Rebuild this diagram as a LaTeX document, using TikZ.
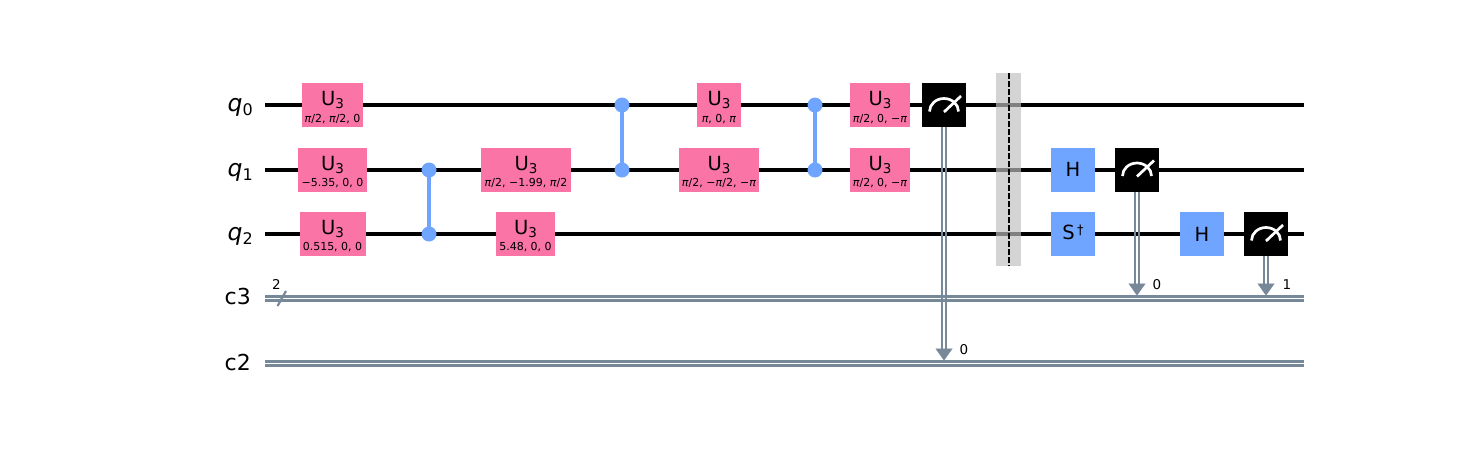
\documentclass[tikz,border=0pt]{standalone}
\usepackage{fontspec}
\setmainfont{DejaVu Sans}
\usetikzlibrary{arrows.meta}
\pgfdeclarelayer{edgelayer}
\pgfdeclarelayer{nodelayer}
\pgfsetlayers{edgelayer,nodelayer,main}
\definecolor{gatepink}{HTML}{FA74A6}
\definecolor{gateblue}{HTML}{6FA4FF}
\definecolor{wiregrey}{HTML}{778899}
\newcommand{\bigfont}{\fontsize{22}{23}\selectfont}
\newcommand{\gatefont}{\fontsize{19.5}{20}\selectfont}
\newcommand{\parfont}{\fontsize{11}{12}\selectfont}
\newcommand{\bitfont}{\fontsize{13.5}{14}\selectfont}
\newcommand{\ppi}{\textit{π}}
\newcommand{\mn}{−}
\newcommand{\uthree}{U\raisebox{-3pt}{\fontsize{13.5}{14}\selectfont 3}}
\newcommand{\qub}[1]{{\fontsize{23.5}{24}\selectfont\textit{q}}\raisebox{-4pt}{\fontsize{16}{16}\selectfont #1}}
\tikzstyle{none} = [inner sep=0pt]
\tikzstyle{wire} = [line width=3.1pt, black]
\tikzstyle{cwire} = [line width=2.2pt, wiregrey]
\tikzstyle{cdrop} = [line width=0.1pt, wiregrey, -{Triangle[width=17pt,length=12pt]}]
\tikzstyle{upink} = [fill=gatepink, inner sep=0pt, minimum height=44pt]
\tikzstyle{blue gate} = [fill=gateblue, inner sep=0pt, minimum width=44pt, minimum height=44pt]
\tikzstyle{meter} = [fill=black, inner sep=0pt, minimum width=44pt, minimum height=44pt]
\tikzstyle{needle} = [line width=2.7pt, white]
\tikzstyle{ctrl} = [circle, fill=gateblue, inner sep=0pt, minimum size=15pt]
\tikzstyle{link} = [line width=3.2pt, gateblue]
\tikzstyle{fence} = [fill=black!25, fill opacity=0.67, inner sep=0pt, minimum width=25pt, minimum height=193pt]
\tikzstyle{wirename} = [anchor=base east, inner sep=0pt, font=\bigfont]
\tikzstyle{uname} = [anchor=base, inner sep=0pt, font=\gatefont]
\tikzstyle{params} = [anchor=base, inner sep=0pt, font=\parfont]
\tikzstyle{bit} = [anchor=base, inner sep=0pt, font=\bitfont]

\begin{document}
\begin{tikzpicture}[x=1pt, y=-1pt]
	\useasboundingbox (0, 0) rectangle (1458, 451);
	\begin{pgfonlayer}{nodelayer}
		% wire ends
		\node [style=none] (0) at (265, 105) {};
		\node [style=none] (1) at (1304, 105) {};
		\node [style=none] (2) at (265, 170) {};
		\node [style=none] (3) at (1304, 170) {};
		\node [style=none] (4) at (265, 234) {};
		\node [style=none] (5) at (1304, 234) {};
		\node [style=none] (6) at (265, 298.5) {};
		\node [style=none] (7) at (1304, 298.5) {};
		\node [style=none] (8) at (265, 363.5) {};
		\node [style=none] (9) at (1304, 363.5) {};
		\node [style=wirename] (10) at (253, 111) {\qub{0}};
		\node [style=wirename] (11) at (253, 176) {\qub{1}};
		\node [style=wirename] (12) at (253, 240) {\qub{2}};
		\node [style=wirename] (13) at (251, 304.5) {c3};
		\node [style=wirename] (14) at (251, 370) {c2};
		% first column
		\node [style=upink, minimum width=61pt] (15) at (332.5, 105) {};
		\node [style=uname] (16) at (332.5, 105) {\uthree};
		\node [style=params] (17) at (332.5, 122) {\ppi/2, \ppi/2, 0};
		\node [style=upink, minimum width=69pt] (18) at (332.5, 169.5) {};
		\node [style=uname] (19) at (332.5, 170) {\uthree};
		\node [style=params] (20) at (332.5, 186.5) {\mn5.35, 0, 0};
		\node [style=upink, minimum width=66pt] (21) at (333, 234) {};
		\node [style=uname] (22) at (332.5, 234) {\uthree};
		\node [style=params] (23) at (332.5, 250.5) {0.515, 0, 0};
		\node [style=ctrl] (24) at (429, 170) {};
		\node [style=ctrl] (25) at (429, 234) {};
		% second column
		\node [style=upink, minimum width=90pt] (26) at (526, 169.5) {};
		\node [style=uname] (27) at (526, 170) {\uthree};
		\node [style=params] (28) at (526, 186.5) {\ppi/2, \mn1.99, \ppi/2};
		\node [style=upink, minimum width=59pt] (29) at (525.5, 234) {};
		\node [style=uname] (30) at (525.5, 234) {\uthree};
		\node [style=params] (31) at (525.5, 250.5) {5.48, 0, 0};
		\node [style=ctrl] (32) at (622, 105) {};
		\node [style=ctrl] (33) at (622, 170) {};
		% third column
		\node [style=upink, minimum width=44pt] (34) at (719, 105) {};
		\node [style=uname] (35) at (719, 105) {\uthree};
		\node [style=params] (36) at (719, 122) {\ppi, 0, \ppi};
		\node [style=upink, minimum width=80pt] (37) at (719, 169.5) {};
		\node [style=uname] (38) at (719, 170) {\uthree};
		\node [style=params] (39) at (719, 186.5) {\ppi/2, \mn\ppi/2, \mn\ppi};
		\node [style=ctrl] (40) at (815, 105) {};
		\node [style=ctrl] (41) at (815, 170) {};
		% fourth column
		\node [style=upink, minimum width=60pt] (42) at (880, 105) {};
		\node [style=uname] (43) at (880, 105) {\uthree};
		\node [style=params] (44) at (880, 122) {\ppi/2, 0, \mn\ppi};
		\node [style=upink, minimum width=60pt] (45) at (880, 169.5) {};
		\node [style=uname] (46) at (880, 170) {\uthree};
		\node [style=params] (47) at (880, 186.5) {\ppi/2, 0, \mn\ppi};
		% measure and barrier
		\node [style=meter] (48) at (944, 105) {};
		\node [style=none] (49) at (944, 348.5) {};
		\node [style=none] (50) at (944, 360.5) {};
		\node [style=bit] (51) at (964, 354) {0};
		\node [style=fence] (52) at (1008.5, 169.5) {};
		\node [style=none] (53) at (1009, 73) {};
		\node [style=none] (54) at (1009, 266) {};
		% after the barrier
		\node [style=blue gate] (55) at (1073, 169.5) {\gatefont H};
		\node [style=blue gate] (56) at (1073, 234) {};
		\node [style=uname] (57) at (1073, 239.5) {S\raisebox{5pt}{\fontsize{13}{13}\selectfont\,†}};
		\node [style=meter] (58) at (1137, 169.5) {};
		\node [style=none] (59) at (1137, 283.5) {};
		\node [style=none] (60) at (1137, 295.5) {};
		\node [style=bit] (61) at (1157, 289) {0};
		\node [style=blue gate] (62) at (1202, 234) {\gatefont H};
		\node [style=meter] (63) at (1266, 234) {};
		\node [style=none] (64) at (1266, 283.5) {};
		\node [style=none] (65) at (1266, 295.5) {};
		\node [style=bit] (66) at (1287, 289) {1};
		% register width
		\node [style=bit] (67) at (276.5, 289) {2};
		\node [style=none] (68) at (277.5, 306) {};
		\node [style=none] (69) at (286, 291) {};
	\end{pgfonlayer}
	\begin{pgfonlayer}{edgelayer}
		\draw [style=wire] (0.center) to (1.center);
		\draw [style=wire] (2.center) to (3.center);
		\draw [style=wire] (4.center) to (5.center);
		\draw [style=cwire] ([yshift=2pt]6.center) to ([yshift=2pt]7.center);
		\draw [style=cwire] ([yshift=-2pt]6.center) to ([yshift=-2pt]7.center);
		\draw [style=cwire] ([yshift=2pt]8.center) to ([yshift=2pt]9.center);
		\draw [style=cwire] ([yshift=-2pt]8.center) to ([yshift=-2pt]9.center);
		\draw [style=cwire] (68.center) to (69.center);
		\draw [style=link] (24.center) to (25.center);
		\draw [style=link] (32.center) to (33.center);
		\draw [style=link] (40.center) to (41.center);
		\draw [style=cwire] ([xshift=-2pt]48.center) to ([xshift=-2pt]49.center);
		\draw [style=cwire] ([xshift=2pt]48.center) to ([xshift=2pt]49.center);
		\draw [style=cdrop] (49.center) to (50.center);
		\draw [style=cwire] ([xshift=-2pt]58.center) to ([xshift=-2pt]59.center);
		\draw [style=cwire] ([xshift=2pt]58.center) to ([xshift=2pt]59.center);
		\draw [style=cdrop] (59.center) to (60.center);
		\draw [style=cwire] ([xshift=-2pt]63.center) to ([xshift=-2pt]64.center);
		\draw [style=cwire] ([xshift=2pt]63.center) to ([xshift=2pt]64.center);
		\draw [style=cdrop] (64.center) to (65.center);
	\end{pgfonlayer}
	\draw [line width=1.1pt, dash pattern=on 5.5pt off 2.5pt] (53.center) to (54.center);
	% meter faces
	\draw [style=needle] ([shift={(-14.5pt,-6.5pt)}]48.center) arc (180:0:14.5pt and 13pt);
	\draw [style=needle] ([yshift=-7pt]48.center) to ([shift={(17pt,9pt)}]48.center);
	\draw [style=needle] ([shift={(-14.5pt,-6.5pt)}]58.center) arc (180:0:14.5pt and 13pt);
	\draw [style=needle] ([yshift=-7pt]58.center) to ([shift={(17pt,9pt)}]58.center);
	\draw [style=needle] ([shift={(-14.5pt,-6.5pt)}]63.center) arc (180:0:14.5pt and 13pt);
	\draw [style=needle] ([yshift=-7pt]63.center) to ([shift={(17pt,9pt)}]63.center);
\end{tikzpicture}
\end{document}
